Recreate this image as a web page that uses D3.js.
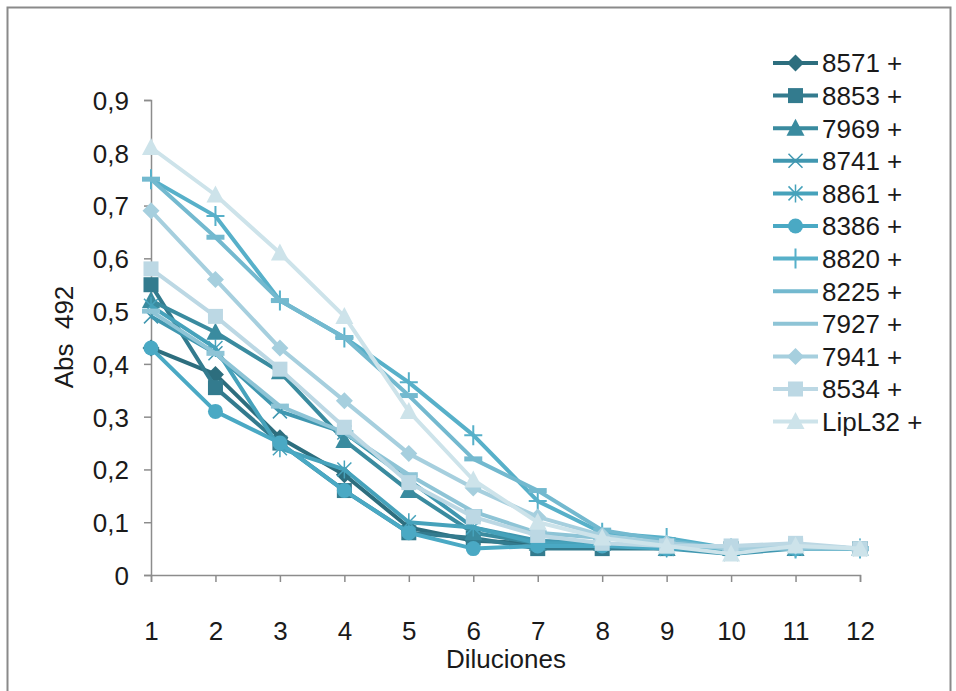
<!DOCTYPE html>
<html><head><meta charset="utf-8">
<script src="https://cdn.jsdelivr.net/npm/d3@7"></script>
<style>
html,body{margin:0;padding:0;background:#fff;}
svg{display:block;font-family:"Liberation Sans",Arial,sans-serif;}
</style></head>
<body>
<svg id="chart" width="956" height="691"></svg>
<script>
const categories = [1,2,3,4,5,6,7,8,9,10,11,12];
const yTicks = [0,0.1,0.2,0.3,0.4,0.5,0.6,0.7,0.8,0.9];
const seriesNames = ["8571 +","8853 +","7969 +","8741 +","8861 +","8386 +","8820 +","8225 +","7927 +","7941 +","8534 +","LipL32 +"];
const v8571  = [0.43,0.38,0.26,0.19,0.09,0.065,0.06,0.055,0.05,0.05,0.05,0.05];
const v8853  = [0.55,0.355,0.25,0.16,0.08,0.07,0.05,0.05,0.05,0.05,0.055,0.05];
const v7969  = [0.52,0.46,0.385,0.255,0.16,0.08,0.06,0.06,0.05,0.05,0.05,0.05];
const v8741  = [0.49,0.42,0.31,0.27,0.18,0.09,0.065,0.06,0.05,0.04,0.05,0.05];
const v8861  = [0.51,0.43,0.24,0.20,0.10,0.09,0.06,0.06,0.05,0.05,0.05,0.05];
const v8386  = [0.43,0.31,0.25,0.16,0.08,0.05,0.055,0.055,0.05,0.05,0.05,0.05];
const v8820  = [0.75,0.68,0.52,0.45,0.365,0.265,0.14,0.08,0.07,0.05,0.05,0.05];
const v8225  = [0.75,0.64,0.52,0.45,0.34,0.22,0.16,0.085,0.065,0.05,0.05,0.05];
const v7927  = [0.50,0.42,0.32,0.27,0.19,0.12,0.08,0.07,0.06,0.05,0.05,0.05];
const v7941  = [0.69,0.56,0.43,0.33,0.23,0.165,0.11,0.075,0.06,0.05,0.055,0.05];
const v8534  = [0.58,0.49,0.39,0.28,0.175,0.11,0.075,0.06,0.055,0.055,0.06,0.05];
const vLipL32= [0.81,0.72,0.61,0.49,0.31,0.18,0.10,0.07,0.055,0.04,0.055,0.05];
const seriesValues = [v8571,v8853,v7969,v8741,v8861,v8386,v8820,v8225,v7927,v7941,v8534,vLipL32];
const colors = ["#2d6e7e","#337b8e","#3a8b9f","#4097b0","#46a2bb","#4aa9c4","#57b0c9","#73b9cf","#8ec4d6","#a6cfde","#bcd8e4","#cde3ea"];
const markers = ["diamond","square","triangle","x","asterisk","circle","plus","dash","dash","diamond","square","triangle"];

const svg = d3.select("#chart");
svg.append("rect").attr("x",7.5).attr("y",7.5).attr("width",943).attr("height",700)
  .attr("fill","#fff").attr("stroke","#8a8a8a").attr("stroke-width",2);

const x = d3.scalePoint().domain(categories).range([151,860]);
const y = d3.scaleLinear().domain([0,0.9]).range([575,100]);
const fmt = d => d===0 ? "0" : d3.format(".1f")(d).replace(".",",");

const axisColor = "#8c8c8c";
const yAxis = svg.append("g").attr("transform","translate(151,0)")
  .call(d3.axisLeft(y).tickValues(yTicks).tickFormat(fmt).tickSize(7).tickPadding(15));
const xAxis = svg.append("g").attr("transform","translate(0,575)")
  .call(d3.axisBottom(x).tickSize(7).tickPadding(40));
[yAxis,xAxis].forEach(a=>{
  a.select(".domain").attr("stroke",axisColor).attr("stroke-width",1.5);
  a.selectAll(".tick line").attr("stroke",axisColor).attr("stroke-width",1.5);
  a.selectAll(".tick text").attr("fill","#1a1a1a").style("font-size","26px");
});
yAxis.selectAll(".tick text").attr("dy","0.36em");

svg.append("text").attr("x",506).attr("y",668).attr("text-anchor","middle")
  .style("font-size","26px").attr("fill","#1a1a1a").text("Diluciones");
svg.append("text").attr("transform","translate(73,337) rotate(-90)").attr("text-anchor","middle")
  .style("font-size","26px").style("white-space","pre").attr("fill","#1a1a1a").text("Abs  492");

function drawMarker(g, type, cx, cy, color){
  const s = g.append("g").attr("transform",`translate(${cx},${cy})`);
  if(type==="diamond") s.append("path").attr("d","M0,-8.5L8.5,0L0,8.5L-8.5,0Z").attr("fill",color);
  else if(type==="square") s.append("rect").attr("x",-7.5).attr("y",-7.5).attr("width",15).attr("height",15).attr("fill",color);
  else if(type==="triangle") s.append("path").attr("d","M0,-9.5L9,7.5L-9,7.5Z").attr("fill",color);
  else if(type==="circle") s.append("circle").attr("r",7.5).attr("fill",color);
  else if(type==="x") s.append("path").attr("d","M-7,-7L7,7M-7,7L7,-7").attr("stroke",color).attr("stroke-width",1.5);
  else if(type==="asterisk") s.append("path").attr("d","M-7,-7L7,7M-7,7L7,-7M0,-9L0,9").attr("stroke",color).attr("stroke-width",1.5);
  else if(type==="plus") s.append("path").attr("d","M-9,0L9,0M0,-10L0,10").attr("stroke",color).attr("stroke-width",2);
  else if(type==="dash") s.append("path").attr("d","M-9,0L9,0").attr("stroke",color).attr("stroke-width",5);
}

const line = d3.line().x((d,i)=>x(categories[i])).y(d=>y(d));
seriesValues.forEach((vals,k)=>{
  const g = svg.append("g");
  g.append("path").datum(vals).attr("d",line).attr("fill","none")
    .attr("stroke",colors[k]).attr("stroke-width",4).attr("stroke-linejoin","round");
  vals.forEach((v,i)=>drawMarker(g, markers[k], x(categories[i]), y(v), colors[k]));
});

// legend
const lg = svg.append("g");
seriesNames.forEach((name,k)=>{
  const yy = 63 + k*32.6;
  lg.append("line").attr("x1",773).attr("x2",818).attr("y1",yy).attr("y2",yy)
    .attr("stroke",colors[k]).attr("stroke-width",4);
  if(markers[k]!=="dash") drawMarker(lg, markers[k], 795.5, yy, colors[k]);
  lg.append("text").attr("x",822).attr("y",yy).attr("dy","0.36em")
    .style("font-size","26px").attr("fill","#1a1a1a").text(name);
});
</script>
</body></html>
